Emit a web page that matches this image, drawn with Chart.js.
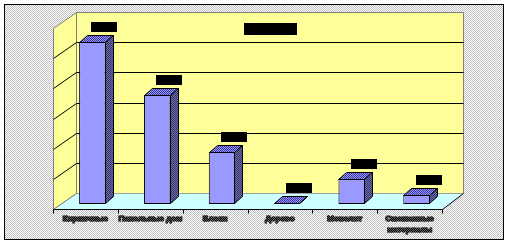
<!DOCTYPE html>
<html><head><meta charset="utf-8">
<script src="https://cdn.jsdelivr.net/npm/chart.js@4/dist/chart.umd.min.js"></script>
<style>html,body{margin:0;padding:0;background:#fff;overflow:hidden}canvas{display:block}</style>
</head><body><canvas id="c" width="508" height="242"></canvas>
<script>
const categories = [['Кирпичные'], ['Панельные дом'], ['Блоки'], ['Дерево'], ['Монолит'], ['Смешанные', 'материалы']];
const values = [5.37, 3.61, 1.72, 0.02, 0.83, 0.30];
const valueLabels = ['5,37', '3,61', '1,72', '0,02', '0,83', '0,30'];
const yTicks = [0, 1, 2, 3, 4, 5, 6];
const chartTitle = 'Типы домов';

const canvas = document.getElementById('c');
const ctx = canvas.getContext('2d');

function checker(c1, c2) {
  const p = document.createElement('canvas'); p.width = 2; p.height = 2;
  const g = p.getContext('2d');
  g.fillStyle = c1; g.fillRect(0, 0, 2, 2);
  g.fillStyle = c2; g.fillRect(0, 0, 1, 1); g.fillRect(1, 1, 1, 1);
  return ctx.createPattern(p, 'repeat');
}
const bgPat = checker('#ffffff', '#c0c0c0');
const topPat = checker('#9999ff', '#333399');
const sidePat = checker('#7070b0', '#333366');
const textPat = checker('#000000', '#606060');

const BACK = {dx: 16, dy: -11};
const FRONT = {dx: -7, dy: 5};
const DEPTH = {dx: 8, dy: -7};

function poly(c, pts, fill, stroke) {
  c.beginPath();
  c.moveTo(pts[0][0], pts[0][1]);
  for (let i = 1; i < pts.length; i++) c.lineTo(pts[i][0], pts[i][1]);
  c.closePath();
  if (fill) { c.fillStyle = fill; c.fill(); }
  if (stroke) { c.strokeStyle = stroke; c.lineWidth = 1; c.stroke(); }
}
function line(c, x1, y1, x2, y2, col) {
  c.beginPath(); c.moveTo(x1, y1); c.lineTo(x2, y2);
  c.strokeStyle = col; c.lineWidth = 1; c.stroke();
}

const scenePlugin = {
  id: 'scene',
  beforeDraw(chart) {
    const c = chart.ctx;
    c.save();
    c.fillStyle = '#ffffff'; c.fillRect(0, 0, chart.width, chart.height);
    c.fillStyle = bgPat; c.fillRect(4, 4, 500, 236);
    c.strokeStyle = '#000'; c.lineWidth = 1; c.strokeRect(4.5, 4.5, 499, 235);
    c.restore();
  },
  beforeDatasetsDraw(chart) {
    const c = chart.ctx, a = chart.chartArea, ys = chart.scales.y;
    const bL = a.left + BACK.dx + 0.5, bR = a.right + BACK.dx - 1.5, bT = a.top + BACK.dy + 0.5, bB = a.bottom + BACK.dy + 0.5;
    const fL = a.left + FRONT.dx + 0.5, fR = a.right + FRONT.dx + 0.5, fB = a.bottom + FRONT.dy + 0.5, fT = a.top + FRONT.dy + 0.5;
    c.save();
    poly(c, [[bL, bT], [bR, bT], [bR, bB], [bL, bB]], '#ffff99', '#808080');
    poly(c, [[fL, fT], [bL, bT], [bL, bB], [fL, fB]], '#ffff99', '#808080');
    poly(c, [[fL, fB], [fR, fB], [bR, bB], [bL, bB]], '#ccffff', null);
    line(c, bL, bB, bR, bB, '#a0a0a0');
    line(c, fL, fB, bL, bB, '#808080');
    yTicks.forEach(v => {
      if (v === 0 || v === yTicks[yTicks.length - 1]) return;
      const y = Math.round(ys.getPixelForValue(v));
      line(c, bL, y + BACK.dy + 0.5, bR, y + BACK.dy + 0.5, '#000');
      line(c, fL, y + FRONT.dy + 0.5, bL, y + BACK.dy + 0.5, '#000');
    });
    line(c, fL - 0.5, fB, fR, fB, '#000');
    line(c, fR, fB, bR, bB, '#000');
    const n = categories.length, cw = (a.right - a.left) / n;
    for (let i = 0; i <= n; i++) {
      const x = Math.round(a.left + i * cw + FRONT.dx) + 0.5;
      line(c, x, fB, x, fB + 4, '#000');
    }
    // category labels (dithered, as in the reference)
    c.font = 'bold 8px "Liberation Sans", Arial, sans-serif';
    c.textAlign = 'center'; c.textBaseline = 'middle';
    c.fillStyle = textPat; c.strokeStyle = textPat; c.lineWidth = 1.6; c.lineJoin = 'round';
    const meta = chart.getDatasetMeta(0);
    meta.data.forEach((el, i) => {
      categories[i].forEach((t, j) => {
        const x = el.x + FRONT.dx, y = fB + 9 + j * 11;
        c.strokeText(t, x, y);
        c.fillText(t, x, y);
      });
    });
    c.restore();
  },
  afterDatasetsDraw(chart) {
    const c = chart.ctx, a = chart.chartArea;
    const meta = chart.getDatasetMeta(0);
    c.save();
    meta.data.forEach((el, i) => {
      const x0 = Math.round(el.x - el.width / 2) + 0.5, x1 = Math.round(el.x + el.width / 2) - 0.5;
      const yt = Math.round(el.y) + 0.5, yb = Math.round(el.base) - 0.5;
      poly(c, [[x0, yt], [x1, yt], [x1 + DEPTH.dx, yt + DEPTH.dy], [x0 + DEPTH.dx, yt + DEPTH.dy]], topPat, '#000');
      poly(c, [[x1, yt], [x1 + DEPTH.dx, yt + DEPTH.dy], [x1 + DEPTH.dx, yb + DEPTH.dy], [x1, yb]], sidePat, '#000');
      // value label (redacted box)
      c.font = '9px "Liberation Sans", Arial, sans-serif';
      const tw = c.measureText(valueLabels[i]).width;
      const w = Math.round(tw + 8), h = 10;
      const cx = el.x + 12, bottom = Math.round(el.y) + DEPTH.dy - 3;
      c.fillStyle = '#000';
      c.fillRect(Math.round(cx - w / 2), bottom - h, w, h);
      c.textAlign = 'center'; c.textBaseline = 'middle';
      c.fillText(valueLabels[i], cx, bottom - h / 2);
    });
    // title (redacted box)
    c.font = 'bold 8px "Liberation Sans", Arial, sans-serif';
    const tcx = (a.left + a.right) / 2 + BACK.dx;
    const tw = c.measureText(chartTitle).width;
    const w = Math.max(52, Math.round(tw + 4));
    c.fillStyle = '#000';
    c.fillRect(Math.round(tcx - w / 2), a.top, w, 12);
    c.textAlign = 'center'; c.textBaseline = 'middle';
    c.fillText(chartTitle, tcx, a.top + 6);
    c.restore();
  }
};

new Chart(canvas, {
  type: 'bar',
  data: {
    labels: categories.map(c => c.join(' ')),
    datasets: [{
      data: values,
      backgroundColor: '#9999ff',
      borderColor: '#000000',
      borderWidth: 1,
      borderSkipped: false,
      categoryPercentage: 1,
      barPercentage: 0.41
    }]
  },
  options: {
    responsive: false,
    animation: false,
    devicePixelRatio: 1,
    layout: {padding: {left: 60, right: 59, top: 23, bottom: 38}},
    plugins: {legend: {display: false}, tooltip: {enabled: false}, title: {display: false}},
    scales: {
      x: {display: false},
      y: {display: false, min: 0, max: 6, ticks: {stepSize: 1}}
    }
  },
  plugins: [scenePlugin]
});
</script>
</body></html>
